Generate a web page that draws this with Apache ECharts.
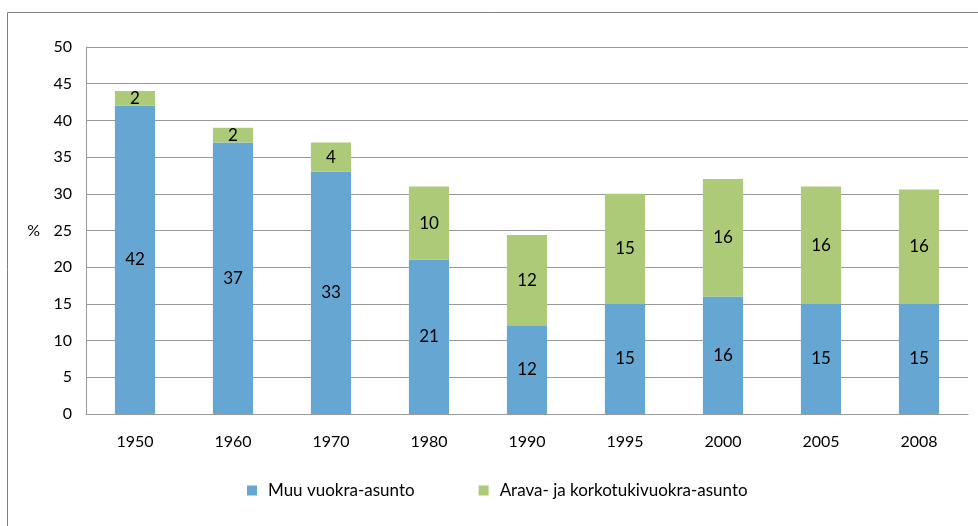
<!DOCTYPE html>
<html><head><meta charset="utf-8">
<script src="https://cdn.jsdelivr.net/npm/echarts@6/dist/echarts.min.js"></script>
<style>html,body{margin:0;padding:0;background:#fff}#c{width:978px;height:526px}</style>
</head><body><div id="c"></div>
<script>
const years = ['1950','1960','1970','1980','1990','1995','2000','2005','2008'];
const muu = [42, 37, 33, 21, 12, 15, 16, 15, 15];
const arava = [2, 2, 4, 10, 12.4, 15, 16, 16, 15.6];
const seriesNames = ['Muu vuokra-asunto', 'Arava- ja korkotukivuokra-asunto'];
const yTicks = {min: 0, max: 50, interval: 5};

const font = 'Lato, "Open Sans", sans-serif';
const chart = echarts.init(document.getElementById('c'));
const lbl = {show: true, position: 'inside', color: '#000', fontSize: 17, fontFamily: font,
  formatter: p => Math.round(p.value)};
chart.setOption({
  animation: false,
  graphic: [{type: 'rect', shape: {x: 7.5, y: 12.5, width: 1000, height: 600},
    style: {fill: 'none', stroke: '#808080', lineWidth: 1}, silent: true}],
  grid: {left: 86, right: 10, top: 47, bottom: 112},
  legend: {bottom: 22, left: 242, itemGap: 64, itemWidth: 10, itemHeight: 10, icon: 'rect',
    textStyle: {fontSize: 17, fontFamily: font, color: '#000', padding: [0, 0, 0, 6]},
    data: seriesNames},
  xAxis: {type: 'category', data: years,
    axisLine: {lineStyle: {color: '#999'}}, axisTick: {show: false},
    axisLabel: {color: '#000', fontSize: 16, fontFamily: font, margin: 20}},
  yAxis: {type: 'value', min: yTicks.min, max: yTicks.max, interval: yTicks.interval,
    name: '%', nameLocation: 'middle', nameRotate: 0, nameGap: 46,
    nameTextStyle: {color: '#000', fontSize: 16, fontFamily: font, padding: [0, 0, 35, 0]},
    axisLine: {show: true, lineStyle: {color: '#999'}}, axisTick: {show: false},
    axisLabel: {color: '#000', fontSize: 16, fontFamily: font, margin: 14},
    splitLine: {lineStyle: {color: '#999'}}},
  series: [
    {name: seriesNames[0], type: 'bar', stack: 's', data: muu, barWidth: '41%',
      itemStyle: {color: '#66a6d2'}, label: lbl},
    {name: seriesNames[1], type: 'bar', stack: 's', data: arava, barWidth: '41%',
      itemStyle: {color: '#acca78'}, label: lbl}
  ]
});
</script></body></html>
